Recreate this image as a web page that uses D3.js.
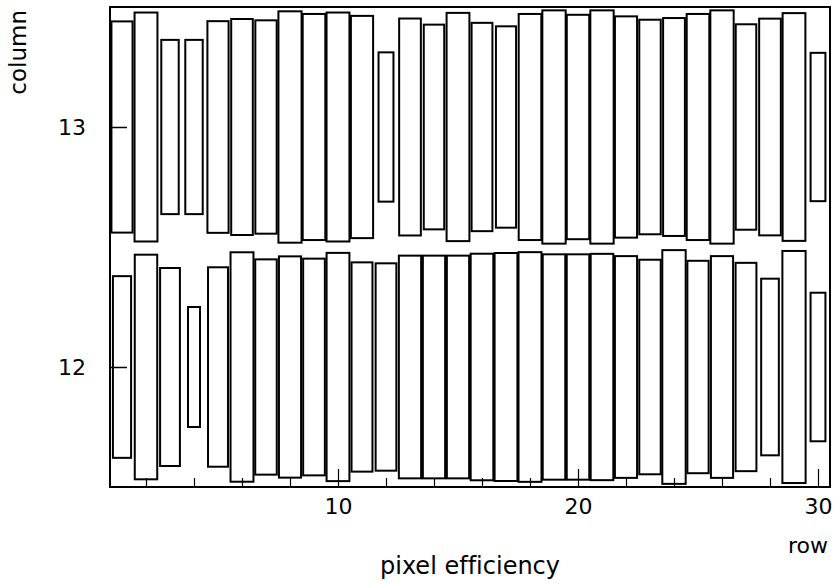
<!DOCTYPE html>
<html>
<head>
<meta charset="utf-8">
<script src="https://cdn.jsdelivr.net/npm/d3@7"></script>
<style>
  html, body { margin: 0; padding: 0; background: #fff; }
  svg { display: block; }
  text { font-family: "DejaVu Sans", sans-serif; font-variant-ligatures: none; fill: #000; }
</style>
</head>
<body>
<svg id="chart" width="834" height="584"></svg>
<script>
// ---- data ----
const rows = d3.range(1, 31);            // row index 1..30
const columns = [12, 13];                // column index
// relative efficiency per row (box size), column 13
const effCol13 = [0.880,0.954,0.726,0.726,0.882,0.900,0.889,0.964,0.942,0.954,
                  0.926,0.622,0.904,0.853,0.951,0.868,0.839,0.942,0.972,0.935,
                  0.972,0.922,0.894,0.908,0.942,0.972,0.856,0.903,0.949,0.618];
// relative efficiency per row (box size), column 12
const effCol12 = [0.757,0.936,0.825,0.500,0.831,0.956,0.897,0.922,0.903,0.951,
                  0.872,0.864,0.928,0.928,0.928,0.944,0.950,0.957,0.939,0.939,
                  0.943,0.924,0.894,0.974,0.885,0.924,0.868,0.736,0.967,0.619];
const xMajorTicks = [10, 20, 30];
const xMinorTicks = [2,4,6,8,12,14,16,18,22,24,26,28];
const yTicks = [12, 13];

// ---- layout ----
const svg = d3.select("#chart");
const mLeft = 110, mRight = 830, mTop = 7, mBottom = 487;

const x = d3.scaleLinear().domain([0.5, 30.5]).range([mLeft, mRight]);
const y = d3.scaleLinear().domain([11.5, 13.5]).range([mBottom, mTop]);
const size = d3.scaleLinear().domain([0, 1]).range([0, 1]); // fraction of bin

const cells = [];
rows.forEach((r, i) => {
  cells.push({row: r, col: columns[1], v: effCol13[i]});
  cells.push({row: r, col: columns[0], v: effCol12[i]});
});

// boxes
svg.append("g").selectAll("rect").data(cells).join("rect")
  .attr("x", d => x(d.row - size(d.v) / 2))
  .attr("width", d => x(d.row + size(d.v) / 2) - x(d.row - size(d.v) / 2))
  .attr("y", d => y(d.col + size(d.v) / 2))
  .attr("height", d => y(d.col - size(d.v) / 2) - y(d.col + size(d.v) / 2))
  .attr("fill", "none")
  .attr("stroke", "#000")
  .attr("stroke-width", 2);

// frame
svg.append("rect")
  .attr("x", mLeft).attr("y", mTop)
  .attr("width", mRight - mLeft).attr("height", mBottom - mTop)
  .attr("fill", "none").attr("stroke", "#000").attr("stroke-width", 2);

// x axis major
const gx = svg.append("g").attr("transform", `translate(0,${mBottom})`)
  .call(d3.axisBottom(x).tickValues(xMajorTicks).tickSize(-18).tickFormat(d3.format("d")));
gx.select(".domain").remove();
gx.selectAll(".tick line").attr("stroke", "#000").attr("stroke-width", 1.2);
gx.selectAll(".tick text").attr("y", 27).attr("dy", 0)
  .attr("font-size", 22).attr("font-family", "DejaVu Sans").attr("fill", "#000");

// x axis minor
const gxm = svg.append("g").attr("transform", `translate(0,${mBottom})`)
  .call(d3.axisBottom(x).tickValues(xMinorTicks).tickSize(-9).tickFormat(""));
gxm.select(".domain").remove();
gxm.selectAll(".tick line").attr("stroke", "#000").attr("stroke-width", 1.2);

// y axis
const gy = svg.append("g").attr("transform", `translate(${mLeft},0)`)
  .call(d3.axisLeft(y).tickValues(yTicks).tickSize(-17).tickFormat(d3.format("d")));
gy.select(".domain").remove();
gy.selectAll(".tick line").attr("stroke", "#000").attr("stroke-width", 1.5);
gy.selectAll(".tick text").attr("x", -24).attr("dy", "0.36em")
  .attr("font-size", 22).attr("font-family", "DejaVu Sans").attr("fill", "#000");

// titles
svg.append("text").attr("x", 828).attr("y", 553)
  .attr("text-anchor", "end").attr("font-size", 22).text("row");
svg.append("text").attr("x", (mLeft + mRight) / 2).attr("y", 574)
  .attr("text-anchor", "middle").attr("font-size", 24).text("pixel efficiency");
svg.append("text").attr("transform", "translate(26,10) rotate(-90)")
  .attr("text-anchor", "end").attr("font-size", 23).text("column");
</script>
</body>
</html>
